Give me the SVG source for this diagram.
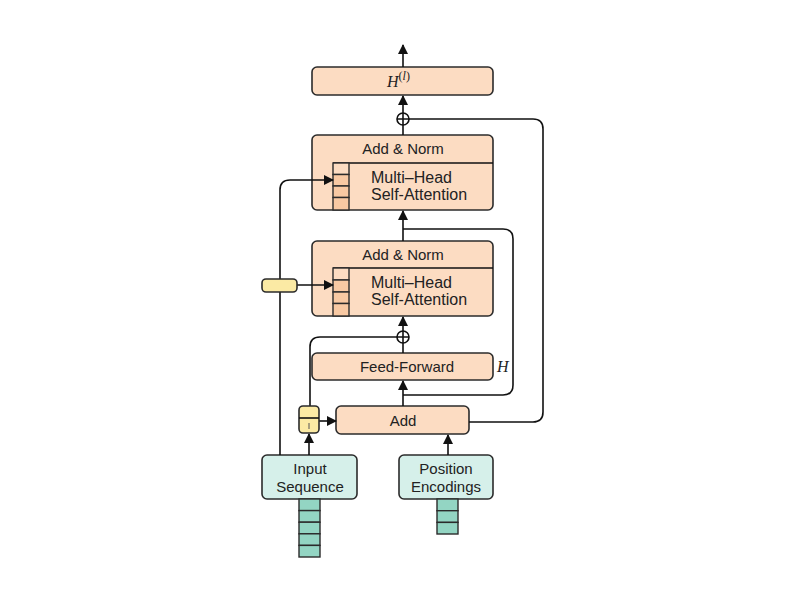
<svg xmlns="http://www.w3.org/2000/svg" width="800" height="600" viewBox="0 0 800 600">
<defs>
<style>
.box{fill:#fcdcc2;stroke:#2b2b2b;stroke-width:1.6}
.cell{fill:#f8c9a3;stroke:#2b2b2b;stroke-width:1.4}
.cellL{fill:#fcdcc2;stroke:#2b2b2b;stroke-width:1.4}
.teal{fill:#d6f0ea;stroke:#2b2b2b;stroke-width:1.6}
.tcell{fill:#93d5c3;stroke:#2b2b2b;stroke-width:1.4}
.yel{fill:#fbeaa4;stroke:#2b2b2b;stroke-width:1.6}
.ln{fill:none;stroke:#111;stroke-width:1.6}
.t{font-family:"Liberation Sans",Arial,sans-serif;font-size:15px;fill:#222;text-anchor:middle}
.ts{font-family:"Liberation Sans",Arial,sans-serif;font-size:16px;fill:#222}
.m{font-family:"Liberation Serif","Times New Roman",serif;font-style:italic;font-size:16px;fill:#222}
</style>
<marker id="ah" markerWidth="10" markerHeight="10" refX="9" refY="5" orient="auto" markerUnits="userSpaceOnUse">
<path d="M0,0 L10,5 L0,10 z" fill="#111"/>
</marker>
</defs>
<rect width="800" height="600" fill="#fff"/>

<g id="output">
<rect class="box" x="312" y="67" width="181" height="28" rx="5"/>
<text class="m" x="387" y="87">H<tspan font-size="12" dy="-7" font-style="normal">(</tspan><tspan font-size="12">l</tspan><tspan font-size="12" font-style="normal">)</tspan></text>
</g>

<g id="block-top">
<rect class="box" x="312" y="135" width="181" height="75" rx="5"/>
<line class="ln" x1="333" y1="163" x2="493" y2="163"/>
<rect class="cellL" x="333" y="163" width="16" height="11.5"/>
<rect class="cell" x="333" y="174.5" width="16" height="11.5"/>
<rect class="cell" x="333" y="186" width="16" height="11.5"/>
<rect class="cell" x="333" y="197.5" width="16" height="12.5"/>
<text class="t" x="403" y="154">Add &amp; Norm</text>
<text class="ts" x="371" y="183">Multi–Head</text>
<text class="ts" x="371" y="200">Self-Attention</text>
</g>

<g id="block-mid">
<rect class="box" x="312" y="241" width="181" height="75" rx="5"/>
<line class="ln" x1="333" y1="268" x2="493" y2="268"/>
<rect class="cellL" x="333" y="268" width="16" height="12"/>
<rect class="cell" x="333" y="280" width="16" height="12"/>
<rect class="cell" x="333" y="292" width="16" height="11.5"/>
<rect class="cell" x="333" y="303.5" width="16" height="12.5"/>
<text class="t" x="403" y="260">Add &amp; Norm</text>
<text class="ts" x="371" y="288">Multi–Head</text>
<text class="ts" x="371" y="305">Self-Attention</text>
</g>

<g id="feedforward">
<rect class="box" x="312" y="353" width="181" height="27" rx="5"/>
<text class="t" x="407" y="372">Feed-Forward</text>
<text class="m" x="497" y="372">H</text>
</g>

<g id="add">
<rect class="box" x="336" y="406" width="133" height="28" rx="5"/>
<text class="t" x="403" y="426">Add</text>
</g>

<g id="input-seq">
<rect class="teal" x="262" y="455" width="95" height="44" rx="5"/>
<text class="t" x="310" y="474">Input</text>
<text class="t" x="310" y="492">Sequence</text>
<rect class="tcell" x="299" y="499" width="21" height="11.6"/>
<rect class="tcell" x="299" y="510.6" width="21" height="11.6"/>
<rect class="tcell" x="299" y="522.2" width="21" height="11.6"/>
<rect class="tcell" x="299" y="533.8" width="21" height="11.6"/>
<rect class="tcell" x="299" y="545.4" width="21" height="11.6"/>
</g>

<g id="pos-enc">
<rect class="teal" x="399" y="455" width="94" height="44" rx="5"/>
<text class="t" x="446" y="474">Position</text>
<text class="t" x="446" y="492">Encodings</text>
<rect class="tcell" x="437" y="499" width="21" height="11.7"/>
<rect class="tcell" x="437" y="510.7" width="21" height="11.7"/>
<rect class="tcell" x="437" y="522.4" width="21" height="11.6"/>
</g>

<g id="connectors">
<line class="ln" x1="403" y1="67" x2="403" y2="45" marker-end="url(#ah)"/>
<line class="ln" x1="403" y1="113" x2="403" y2="96" marker-end="url(#ah)"/>
<line class="ln" x1="403" y1="135" x2="403" y2="125"/>
<path class="ln" d="M409,119 H533 Q543,119 543,129 V412 Q543,422 533,422 H469"/>
<line class="ln" x1="403" y1="241" x2="403" y2="211" marker-end="url(#ah)"/>
<path class="ln" d="M403,229 H503 Q513,229 513,239 V385 Q513,395 503,395 H403"/>
<line class="ln" x1="403" y1="331" x2="403" y2="317" marker-end="url(#ah)"/>
<line class="ln" x1="403" y1="353" x2="403" y2="343"/>
<path class="ln" d="M397,337 H320 Q310,337 310,347 V406"/>
<line class="ln" x1="403" y1="406" x2="403" y2="381" marker-end="url(#ah)"/>
<path class="ln" d="M280,455 V190 Q280,180 290,180 H333" marker-end="url(#ah)"/>
<line class="ln" x1="297" y1="285" x2="333" y2="285" marker-end="url(#ah)"/>
<line class="ln" x1="309" y1="455" x2="309" y2="434" marker-end="url(#ah)"/>
<line class="ln" x1="319" y1="421" x2="336" y2="421" marker-end="url(#ah)"/>
<line class="ln" x1="448" y1="455" x2="448" y2="435" marker-end="url(#ah)"/>
</g>

<g id="plus-top">
<circle cx="403" cy="119" r="6" fill="#fff" stroke="#111" stroke-width="1.6"/>
<path class="ln" d="M397,119 H409 M403,113 V125"/>
</g>

<g id="plus-mid">
<circle cx="403" cy="337" r="6" fill="#fff" stroke="#111" stroke-width="1.6"/>
<path class="ln" d="M397,337 H409 M403,331 V343"/>
</g>

<g id="pill">
<rect class="yel" x="262" y="279" width="35" height="13" rx="4"/>
</g>

<g id="gate">
<rect class="yel" x="299" y="406" width="20" height="27" rx="4"/>
<line class="ln" x1="299" y1="418" x2="319" y2="418"/>
<line x1="309" y1="423" x2="309" y2="429" stroke="#555" stroke-width="1"/>
</g>
</svg>
